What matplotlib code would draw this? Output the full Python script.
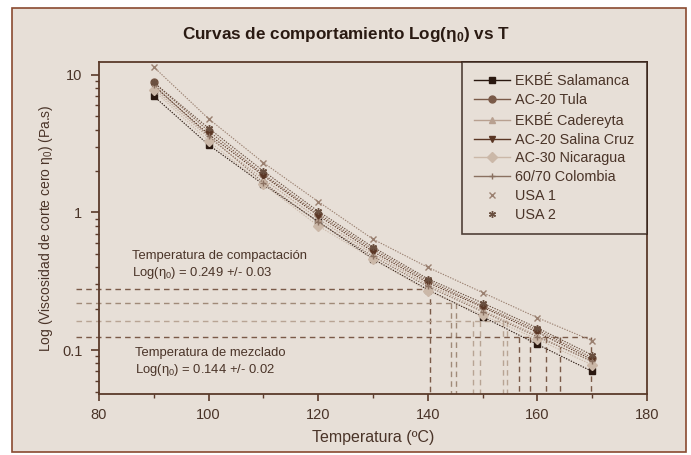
import matplotlib
matplotlib.use("Agg")
import matplotlib.pyplot as plt
from matplotlib.lines import Line2D
from matplotlib.patches import Rectangle

plt.rcParams['font.family'] = ['Liberation Sans', 'DejaVu Sans']
plt.rcParams['mathtext.fontset'] = 'custom'
plt.rcParams['mathtext.rm'] = 'Liberation Sans'
plt.rcParams['mathtext.it'] = 'Liberation Sans'
plt.rcParams['mathtext.bf'] = 'Liberation Sans:bold'
plt.rcParams['mathtext.default'] = 'regular'

# Temperatures (ºC) and zero-shear viscosity (Pa.s) for each binder
temps = [90, 100, 110, 120, 130, 140, 150, 160, 170]
salamanca = [7.0, 3.1, 1.60, 0.86, 0.46, 0.275, 0.175, 0.110, 0.070]
tula = [8.8, 3.9, 1.90, 0.98, 0.54, 0.320, 0.210, 0.140, 0.088]
cadereyta = [8.0, 3.5, 1.75, 0.90, 0.50, 0.300, 0.195, 0.128, 0.082]
salina_cruz = [8.3, 3.7, 1.85, 0.95, 0.52, 0.310, 0.205, 0.135, 0.085]
nicaragua = [7.7, 3.3, 1.60, 0.80, 0.46, 0.270, 0.180, 0.120, 0.078]
colombia = [8.5, 3.6, 1.65, 0.85, 0.48, 0.290, 0.190, 0.125, 0.083]
usa1 = [11.4, 4.8, 2.30, 1.20, 0.64, 0.400, 0.262, 0.172, 0.117]
usa2 = [8.8, 4.1, 2.00, 1.02, 0.56, 0.330, 0.220, 0.145, 0.092]

series_names = ["EKBÉ Salamanca", "AC-20 Tula", "EKBÉ Cadereyta", "AC-20 Salina Cruz",
                "AC-30 Nicaragua", "60/70 Colombia", "USA 1", "USA 2"]
series_values = [salamanca, tula, cadereyta, salina_cruz, nicaragua, colombia, usa1, usa2]

# Compaction / mixing viscosity bands: log(eta) = centre +/- half width
comp_center, comp_half = 0.249, 0.03
mix_center, mix_half = 0.144, 0.02

# Temperatures where the binder curves reach each band limit
comp_hi_temps = [140.4]
comp_lo_temps = [144.2, 145.1]
mix_hi_temps = [148.2, 149.5, 153.7, 154.5]
mix_lo_temps = [156.6, 158.6, 161.6, 164.1, 169.8]

bg = "#e7dfd7"
txt = "#4a3428"
spine = "#5a3a2a"

styles = [
    dict(marker="s", color="#2a1810"),
    dict(marker="o", color="#7a5a48"),
    dict(marker="^", color="#b8a090"),
    dict(marker="v", color="#5a3624"),
    dict(marker="D", color="#cbb8a8"),
    dict(marker="+", color="#8a7060"),
    dict(marker="x", color="#9a8070"),
    dict(marker=(6, 2, 0), color="#6a5040"),
]

fig = plt.figure(figsize=(6.91, 4.55), dpi=100)
fig.patch.set_facecolor("white")
fig.patches.append(Rectangle((12 / 691, 1 - 452 / 455), 674 / 691, 444 / 455,
                             transform=fig.transFigure, facecolor=bg,
                             edgecolor="#8a4a30", linewidth=1.2, zorder=-5))

ax = fig.add_axes([99 / 691, 1 - 394 / 455, 548 / 691, 332 / 455])
ax.set_facecolor(bg)
ax.set_yscale("log")
ax.set_xlim(80, 180)
ax.set_ylim(0.048, 12.4)

for name, vals, st in zip(series_names, series_values, styles):
    ax.plot(temps, vals, linestyle=(0, (1.2, 1.2)), linewidth=0.8, color=st["color"],
            marker=st["marker"], markersize=5, markeredgewidth=1.0, zorder=3)

# Band limits: horizontal guides running out past the axis, then drops to the T axis
x_left = 75.8
dash = (0, (4, 3))
bands = [
    (comp_center + comp_half, comp_hi_temps, "#7a5a48"),
    (comp_center - comp_half, comp_lo_temps, "#a08a78"),
    (mix_center + mix_half, mix_hi_temps, "#b8a494"),
    (mix_center - mix_half, mix_lo_temps, "#7a5a48"),
]
for level, tlist, col in bands:
    ax.plot([x_left, max(tlist)], [level, level], linestyle=dash, linewidth=1.0,
            color=col, clip_on=False, zorder=2)
    for t in tlist:
        ax.plot([t, t], [level, 0.048], linestyle=dash, linewidth=1.0, color=col, zorder=2)

ann_size = 9.4
ax.text(86.0, 0.479, "Temperatura de compactación", fontsize=ann_size, color=txt,
        va="center")
ax.text(86.0, 0.366, "Log(η$_0$) = %.3f +/- %.2f" % (comp_center, comp_half),
        fontsize=ann_size, color=txt, va="center")
ax.text(86.6, 0.096, "Temperatura de mezclado", fontsize=ann_size, color=txt,
        va="center")
ax.text(86.6, 0.0721, "Log(η$_0$) = %.3f +/- %.2f" % (mix_center, mix_half),
        fontsize=ann_size, color=txt, va="center")

ax.set_xticks([80, 100, 120, 140, 160, 180])
ax.set_xticks([90, 110, 130, 150, 170], minor=True)
ax.set_yticks([0.1, 1, 10])
ax.set_yticklabels(["0.1", "1", "10"])
ax.tick_params(axis="both", which="major", direction="out", length=5, width=1.2,
               colors=spine, labelcolor=txt, labelsize=10.5, pad=5)
ax.tick_params(axis="y", which="major", length=6, pad=6)
ax.tick_params(axis="both", which="minor", direction="out", length=3, width=1.0,
               colors=spine)
for s in ax.spines.values():
    s.set_color(spine)
    s.set_linewidth(1.3)

ax.set_xlabel("Temperatura (ºC)", fontsize=11.5, color=txt, labelpad=6)
ax.set_ylabel("Log (Viscosidad de corte cero η$_0$) (Pa.s)", fontsize=10,
              color=txt, labelpad=5)
fig.text(0.5, 1 - 35 / 455, "Curvas de comportamiento Log(η$_0$) vs T",
         ha="center", va="center", fontsize=12.3, fontweight="bold", color="#2a1a12")

handles = []
for i, st in enumerate(styles):
    ls = "-" if i < 6 else "none"
    handles.append(Line2D([], [], color=st["color"], linestyle=ls, linewidth=1.0,
                          marker=st["marker"], markersize=5, markeredgewidth=1.0))
leg = ax.legend(handles, series_names, loc="upper right", bbox_to_anchor=(1.0, 1.0),
                fontsize=10.4, frameon=True, fancybox=False, borderaxespad=0,
                handlelength=2.5, handletextpad=0.35, labelspacing=0.33,
                borderpad=0.85)
leg.get_frame().set_edgecolor("#2a1810")
leg.get_frame().set_linewidth(1.2)
leg.get_frame().set_facecolor(bg)
for t in leg.get_texts():
    t.set_color(txt)

fig.savefig("out.png", dpi=100, facecolor="white")
